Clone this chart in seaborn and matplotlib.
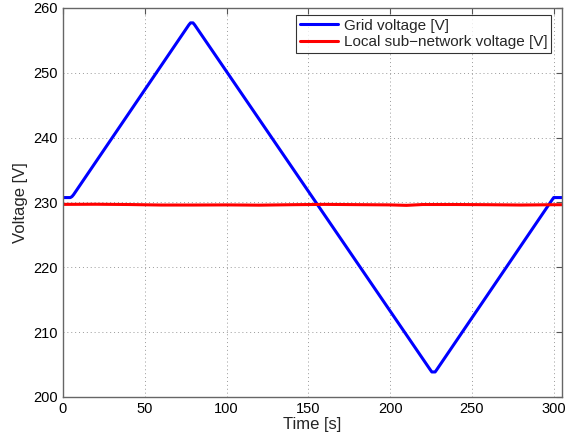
import matplotlib
matplotlib.use("Agg")
import matplotlib.pyplot as plt
import seaborn as sns
import pandas as pd
import numpy as np

# Grid voltage breakpoints (time [s], voltage [V])
grid_t = [0, 4.5, 5.5, 6.5, 77.0, 78.0, 79.5, 80.5, 224.5, 225.5, 227.5, 228.5, 299.0, 300.0, 301.0, 305]
grid_v = [230.75, 230.75, 230.9, 231.2, 257.4, 257.7, 257.7, 257.4, 204.2, 203.85, 203.85, 204.2, 230.4, 230.75, 230.75, 230.75]

# Local sub-network voltage
local_t = [0, 20, 40, 60, 80, 100, 120, 140, 160, 180, 200, 210, 220, 240, 260, 280, 300, 305]
local_v = [229.7, 229.72, 229.68, 229.6, 229.6, 229.62, 229.58, 229.65, 229.7, 229.66, 229.62, 229.55, 229.68, 229.68, 229.65, 229.6, 229.65, 229.65]

sns.set_style("white")
plt.rcParams['font.family'] = ['Liberation Sans', 'DejaVu Sans']

df_grid = pd.DataFrame({"t": grid_t, "v": grid_v})
df_local = pd.DataFrame({"t": local_t, "v": local_v})

fig = plt.figure(figsize=(5.67, 4.42), dpi=100)
ax = fig.add_axes([0.111, 0.102, 0.880, 0.880])

sns.lineplot(data=df_grid, x="t", y="v", ax=ax, color="#0000ff", linewidth=2.2,
             label="Grid voltage [V]", sort=False)
sns.lineplot(data=df_local, x="t", y="v", ax=ax, color="#ff0000", linewidth=2.2,
             label="Local sub\u2212network voltage [V]", sort=False)

ax.set_xlim(0, 305)
ax.set_ylim(200, 260)
ax.set_xticks([0, 50, 100, 150, 200, 250, 300])
ax.set_yticks([200, 210, 220, 230, 240, 250, 260])
ax.grid(True, linestyle=(0, (1, 3)), color="#999999", linewidth=0.7)
ax.tick_params(direction="in", top=True, right=True, length=4, labelsize=10.5,
               color="#555555", labelcolor="black")
for s in ax.spines.values():
    s.set_color("#666666")
    s.set_linewidth(1.0)
ax.set_xlabel("Time [s]", fontsize=12, labelpad=1)
ax.set_ylabel("Voltage [V]", fontsize=12, labelpad=4)

leg = ax.legend(loc="upper right", fontsize=11, frameon=True, fancybox=False,
                bbox_to_anchor=(0.985, 0.99),
                borderaxespad=0.2, handlelength=2.5, borderpad=0.25, labelspacing=0.15,
                handletextpad=0.4)
leg.get_frame().set_edgecolor("black")
leg.get_frame().set_linewidth(0.8)

fig.savefig("out.png", dpi=100)
